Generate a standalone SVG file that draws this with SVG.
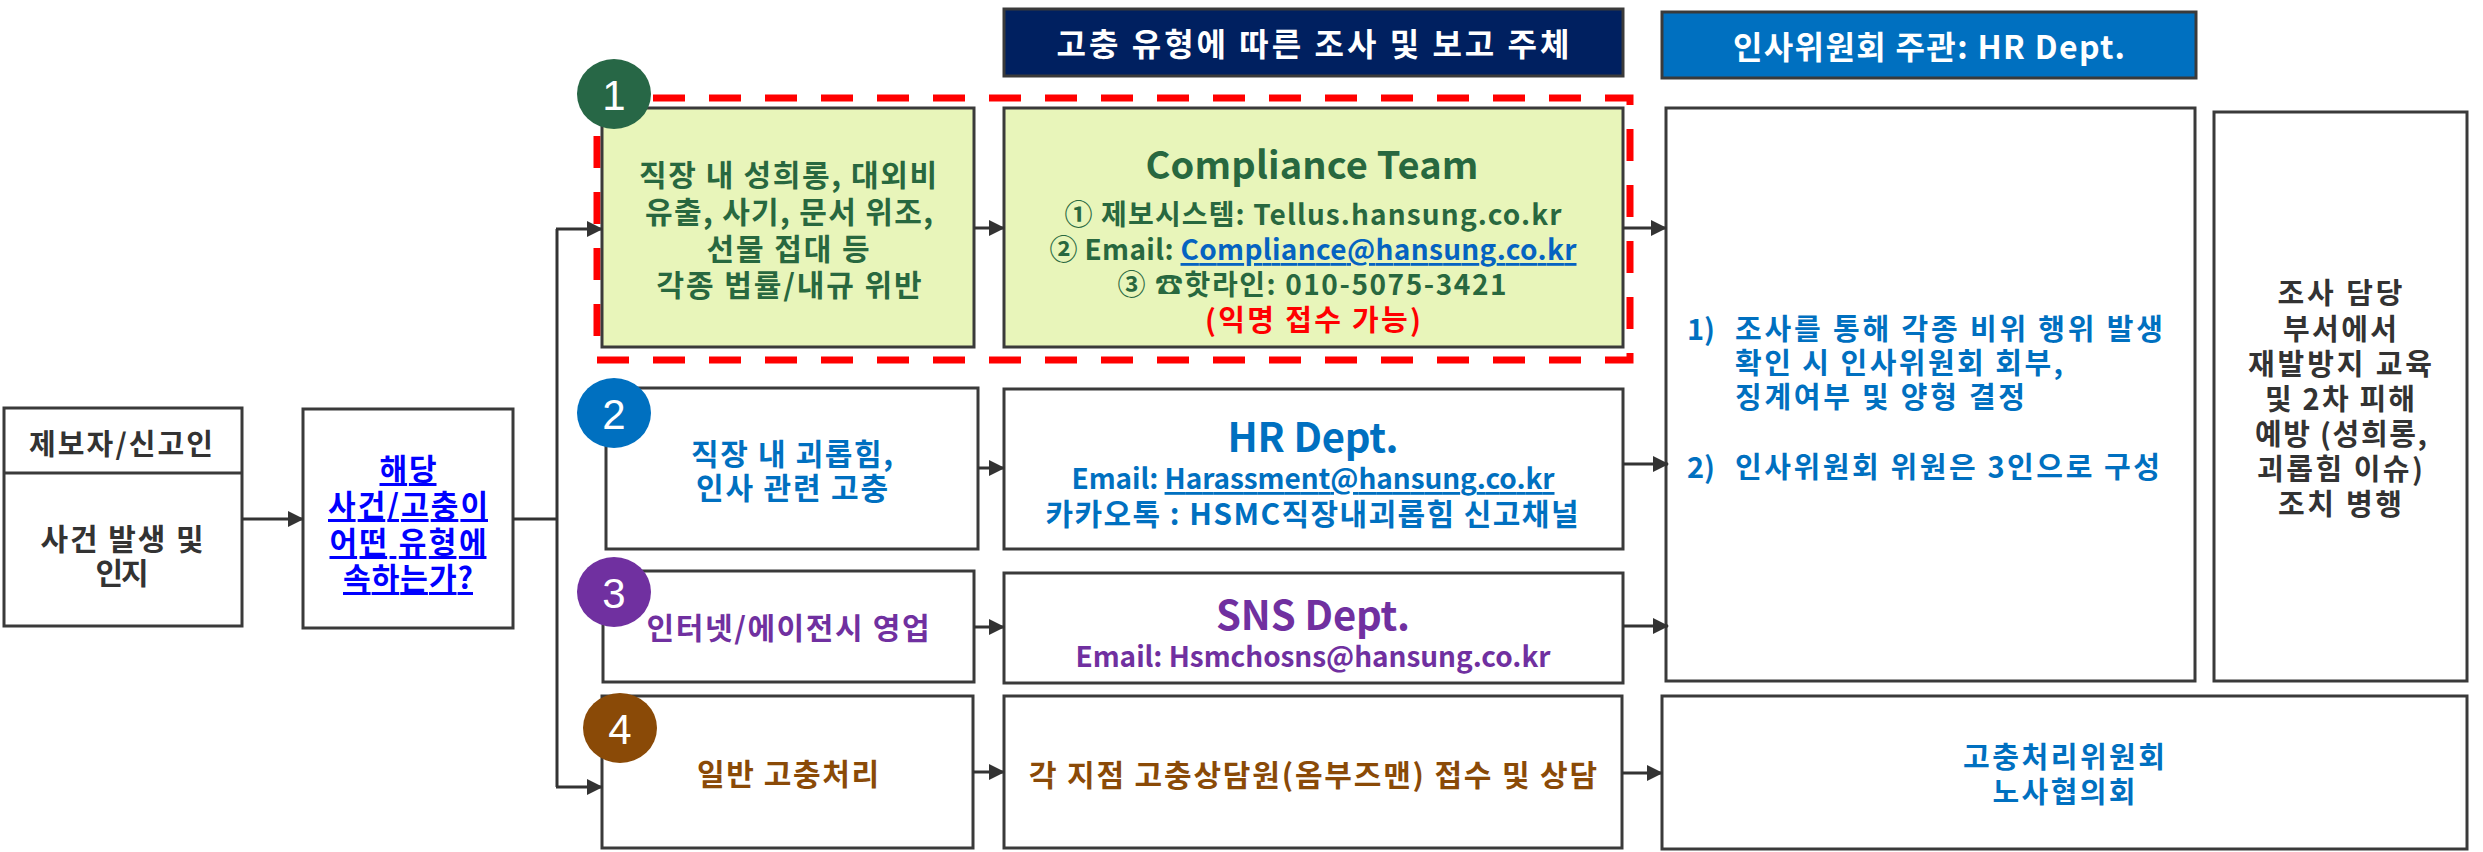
<svg xmlns="http://www.w3.org/2000/svg" width="2483" height="852" viewBox="0 0 2483 852">
<style>
.box{fill:#fff;stroke:#3a3a3a;stroke-width:3}
.gbox{fill:#E8F5BA;stroke:#3a3a3a;stroke-width:3}
.t{font-family:"Noto Sans CJK KR","Noto Sans",sans-serif;font-weight:bold;text-anchor:middle;dominant-baseline:central}
.tl{font-family:"Noto Sans CJK KR","Noto Sans",sans-serif;font-weight:bold;dominant-baseline:central}
.num{font-family:"Liberation Sans",Arial,sans-serif;font-size:42px;fill:#fff;text-anchor:middle;dominant-baseline:central}
.dk{fill:#333}
.grn{fill:#28683F}
.blu{fill:#0070C0}
.pur{fill:#7030A0}
.brn{fill:#8A4A07}
.con{fill:none;stroke:#333;stroke-width:3}
</style>
<defs>
<marker id="ah" markerUnits="userSpaceOnUse" markerWidth="16" markerHeight="16" refX="15" refY="8" orient="auto">
<path d="M0,0 L16,8 L0,16 Z" fill="#333"/>
</marker>
</defs>

<g id="header-types">
<rect x="1004" y="9" width="619" height="67" fill="#002060" stroke="#3a3a3a" stroke-width="3"/>
<text class="t" x="1313" y="42" font-size="32" fill="#fff" textLength="513" lengthAdjust="spacing">고충 유형에 따른 조사 및 보고 주체</text>
</g>
<g id="header-hr">
<rect x="1662" y="12" width="534" height="66" fill="#0070C0" stroke="#3a3a3a" stroke-width="3"/>
<text class="t" x="1929" y="45" font-size="32" fill="#fff" textLength="392" lengthAdjust="spacing">인사위원회 주관: HR Dept.</text>
</g>

<g id="reporter">
<rect class="box" x="4" y="408" width="238" height="218"/>
<line x1="4" y1="473" x2="242" y2="473" stroke="#3a3a3a" stroke-width="3"/>
<text class="t dk" x="121" y="442" font-size="29" textLength="184" lengthAdjust="spacing">제보자/신고인</text>
<text class="t dk" x="122" y="537" font-size="30" textLength="163" lengthAdjust="spacing">사건 발생 및</text>
<text class="t dk" x="122" y="571" font-size="30" textLength="53" lengthAdjust="spacing">인지</text>
</g>

<g id="question">
<rect class="box" x="303" y="409" width="210" height="219"/>
<text class="t" x="408" y="467" font-size="30" fill="#0000FF" text-decoration="underline" textLength="57" lengthAdjust="spacing">해당</text>
<text class="t" x="408" y="503" font-size="30" fill="#0000FF" text-decoration="underline" textLength="160" lengthAdjust="spacing">사건/고충이</text>
<text class="t" x="408" y="540" font-size="30" fill="#0000FF" text-decoration="underline" textLength="157" lengthAdjust="spacing">어떤 유형에</text>
<text class="t" x="408" y="576" font-size="30" fill="#0000FF" text-decoration="underline" textLength="130" lengthAdjust="spacing">속하는가?</text>
</g>

<g id="group1-frame">
<rect x="597" y="98" width="1033" height="262" fill="none" stroke="#FF0000" stroke-width="7" stroke-dasharray="32 24"/>
</g>

<g id="type1">
<rect class="gbox" x="602" y="108" width="372" height="239"/>
<text class="t grn" x="788" y="173" font-size="30" textLength="298" lengthAdjust="spacing">직장 내 성희롱, 대외비</text>
<text class="t grn" x="789" y="210" font-size="30" textLength="288" lengthAdjust="spacing">유출, 사기, 문서 위조,</text>
<text class="t grn" x="788" y="247" font-size="30" textLength="163" lengthAdjust="spacing">선물 접대 등</text>
<text class="t grn" x="789" y="283" font-size="30" textLength="265" lengthAdjust="spacing">각종 법률/내규 위반</text>
</g>

<g id="compliance">
<rect class="gbox" x="1004" y="108" width="619" height="239"/>
<text class="t grn" x="1312" y="162" font-size="38" textLength="333" lengthAdjust="spacing">Compliance Team</text>
<text class="t grn" x="1313" y="213" font-size="28" textLength="497" lengthAdjust="spacing">①  제보시스템: Tellus.hansung.co.kr</text>
<text class="t grn" x="1313" y="248" font-size="28" textLength="527" lengthAdjust="spacing">②  Email: <tspan fill="#0563C1" text-decoration="underline">Compliance@hansung.co.kr</tspan></text>
<text class="t grn" x="1312" y="283" font-size="28" textLength="389" lengthAdjust="spacing">③  ☎핫라인: 010-5075-3421</text>
<text class="t" x="1313" y="318" font-size="29" fill="#FF0000" textLength="216" lengthAdjust="spacing">(익명 접수 가능)</text>
</g>

<g id="type2">
<rect class="box" x="606" y="388" width="372" height="161"/>
<text class="t blu" x="792" y="452" font-size="30" textLength="202" lengthAdjust="spacing">직장 내 괴롭힘,</text>
<text class="t blu" x="792" y="486" font-size="30" textLength="192" lengthAdjust="spacing">인사 관련 고충</text>
</g>

<g id="hr-dept">
<rect class="box" x="1004" y="389" width="619" height="160"/>
<text class="t blu" x="1313" y="435" font-size="40" textLength="171" lengthAdjust="spacing">HR Dept.</text>
<text class="t blu" x="1313" y="477" font-size="28" textLength="483" lengthAdjust="spacing">Email: <tspan text-decoration="underline">Harassment@hansung.co.kr</tspan></text>
<text class="t blu" x="1312" y="512" font-size="30" textLength="533" lengthAdjust="spacing">카카오톡 : HSMC직장내괴롭힘 신고채널</text>
</g>

<g id="type3">
<rect class="box" x="603" y="571" width="371" height="111"/>
<text class="t pur" x="788" y="626" font-size="30" textLength="283" lengthAdjust="spacing">인터넷/에이전시 영업</text>
</g>

<g id="sns-dept">
<rect class="box" x="1004" y="573" width="619" height="110"/>
<text class="t pur" x="1313" y="613" font-size="40" textLength="194" lengthAdjust="spacing">SNS Dept.</text>
<text class="t pur" x="1313" y="655" font-size="28" textLength="475" lengthAdjust="spacing">Email: Hsmchosns@hansung.co.kr</text>
</g>

<g id="type4">
<rect class="box" x="602" y="696" width="371" height="152"/>
<text class="t brn" x="788" y="772" font-size="30" textLength="182" lengthAdjust="spacing">일반 고충처리</text>
</g>

<g id="ombudsman">
<rect class="box" x="1004" y="696" width="618" height="152"/>
<text class="t brn" x="1313" y="773" font-size="30" textLength="568" lengthAdjust="spacing">각 지점 고충상담원(옴부즈맨) 접수 및 상담</text>
</g>

<g id="hr-committee">
<rect class="box" x="1666" y="108" width="529" height="573"/>
<text class="tl blu" x="1687" y="327" font-size="29">1)</text>
<text class="tl blu" x="1735" y="327" font-size="29" textLength="428" lengthAdjust="spacing">조사를 통해 각종 비위 행위 발생</text>
<text class="tl blu" x="1735" y="361" font-size="29" textLength="328" lengthAdjust="spacing">확인 시 인사위원회 회부,</text>
<text class="tl blu" x="1735" y="395" font-size="29" textLength="290" lengthAdjust="spacing">징계여부 및 양형 결정</text>
<text class="tl blu" x="1687" y="465" font-size="29">2)</text>
<text class="tl blu" x="1735" y="465" font-size="29" textLength="425" lengthAdjust="spacing">인사위원회 위원은 3인으로 구성</text>
</g>

<g id="prevention">
<rect class="box" x="2214" y="112" width="253" height="569"/>
<text class="t dk" x="2340" y="291" font-size="29" textLength="125" lengthAdjust="spacing">조사 담당</text>
<text class="t dk" x="2340" y="327" font-size="29" textLength="114" lengthAdjust="spacing">부서에서</text>
<text class="t dk" x="2340" y="362" font-size="29" textLength="184" lengthAdjust="spacing">재발방지 교육</text>
<text class="t dk" x="2340" y="397" font-size="29" textLength="150" lengthAdjust="spacing">및 2차 피해</text>
<text class="t dk" x="2341" y="432" font-size="29" textLength="172" lengthAdjust="spacing">예방 (성희롱,</text>
<text class="t dk" x="2340" y="467" font-size="29" textLength="166" lengthAdjust="spacing">괴롭힘 이슈)</text>
<text class="t dk" x="2340" y="502" font-size="29" textLength="124" lengthAdjust="spacing">조치 병행</text>
</g>

<g id="grievance-committee">
<rect class="box" x="1662" y="696" width="805" height="153"/>
<text class="t blu" x="2064" y="755" font-size="29" textLength="202" lengthAdjust="spacing">고충처리위원회</text>
<text class="t blu" x="2064" y="790" font-size="29" textLength="143" lengthAdjust="spacing">노사협의회</text>
</g>

<g id="connectors">
<line class="con" x1="242" y1="519" x2="303" y2="519" marker-end="url(#ah)"/>
<polyline class="con" points="513,519 557,519"/>
<polyline class="con" points="557,229 557,787"/>
<line class="con" x1="556" y1="229" x2="602" y2="229" marker-end="url(#ah)"/>
<line class="con" x1="556" y1="787" x2="602" y2="787" marker-end="url(#ah)"/>
<line class="con" x1="974" y1="228" x2="1004" y2="228" marker-end="url(#ah)"/>
<line class="con" x1="978" y1="468" x2="1004" y2="468" marker-end="url(#ah)"/>
<line class="con" x1="974" y1="627" x2="1004" y2="627" marker-end="url(#ah)"/>
<line class="con" x1="973" y1="772" x2="1004" y2="772" marker-end="url(#ah)"/>
<line class="con" x1="1623" y1="228" x2="1666" y2="228" marker-end="url(#ah)"/>
<line class="con" x1="1623" y1="464" x2="1668" y2="464" marker-end="url(#ah)"/>
<line class="con" x1="1623" y1="626" x2="1668" y2="626" marker-end="url(#ah)"/>
<line class="con" x1="1622" y1="773" x2="1662" y2="773" marker-end="url(#ah)"/>
</g>

<g id="badge1">
<ellipse cx="614" cy="94" rx="37" ry="35" fill="#276746"/>
<text class="num" x="614" y="95">1</text>
</g>
<g id="badge2">
<ellipse cx="614" cy="413" rx="37" ry="35" fill="#0070C0"/>
<text class="num" x="614" y="414">2</text>
</g>
<g id="badge3">
<ellipse cx="614" cy="592" rx="37" ry="35" fill="#7030A0"/>
<text class="num" x="614" y="593">3</text>
</g>
<g id="badge4">
<ellipse cx="620" cy="728" rx="37" ry="35" fill="#8A4A07"/>
<text class="num" x="620" y="729">4</text>
</g>
</svg>
